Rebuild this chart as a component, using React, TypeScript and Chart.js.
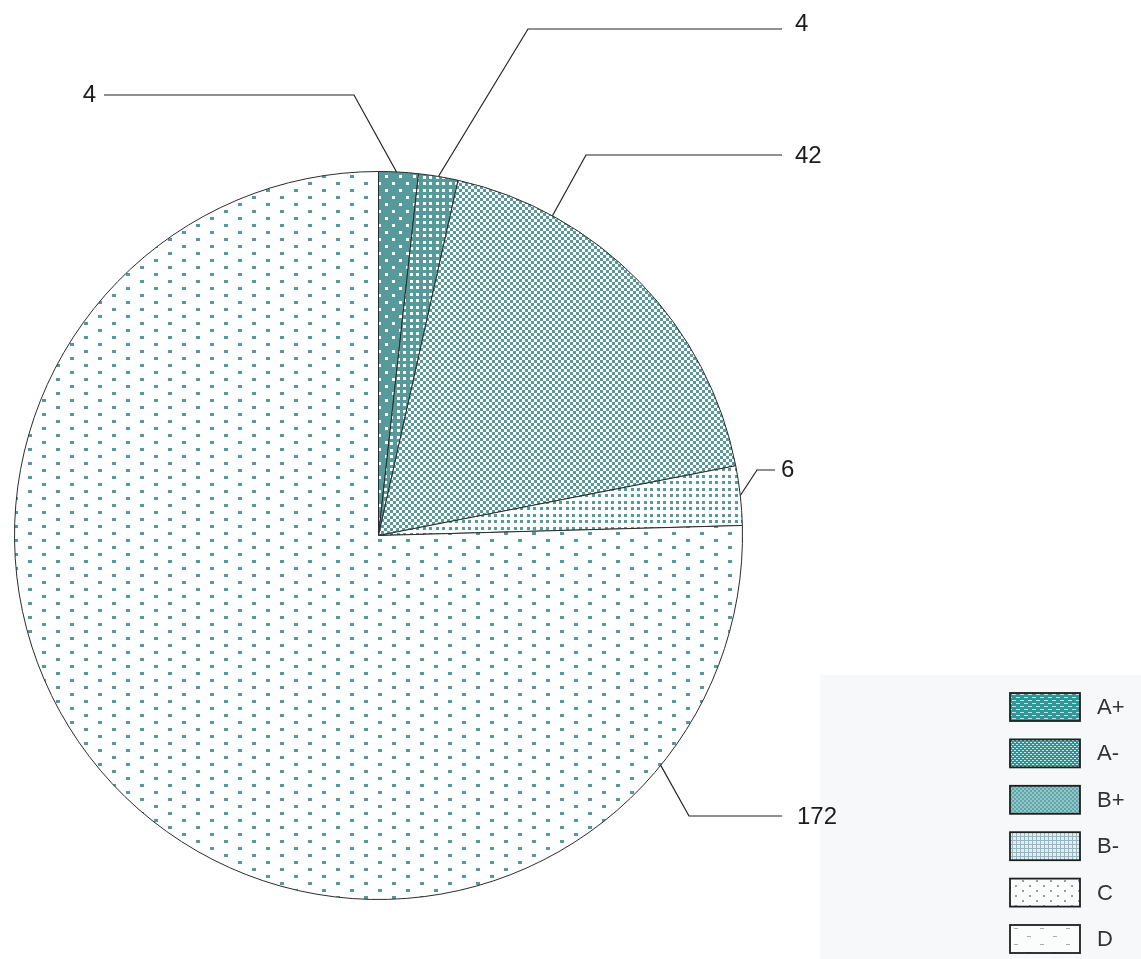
import React, { useEffect, useRef } from "react";
import { Chart, registerables } from "chart.js";

Chart.register(...registerables);

// Grade distribution
const categories = ["A+", "A-", "B+", "B-", "C", "D"];
const counts = [4, 4, 42, 6, 172, 0];

// Leader-line layout for the value labels: where along the slice the line
// starts (fraction of the slice's sweep), the elbow point, the end of the
// horizontal run and where the number sits.
const labelLayout = [
  { frac: 0.45, ex: 354, ey: 95, hx: 104, tx: 96, ty: 95, align: "right" },
  { frac: 0.5, ex: 528, ey: 29, hx: 782, tx: 795, ty: 24, align: "left" },
  { frac: 0.24, ex: 586, ey: 155, hx: 782, tx: 795, ty: 156, align: "left" },
  { frac: 0.5, ex: 757, ey: 470, hx: 775, tx: 781, ty: 470, align: "left" },
  { frac: 0.15, ex: 689, ey: 816, hx: 782, tx: 797, ty: 817, align: "left" },
  null,
];

const TEAL = "#579a9c";
const W = 1141;
const H = 959;

function tile(w: number, h: number, bg: string, fg: string, cells: number[][]) {
  const c = document.createElement("canvas");
  c.width = w;
  c.height = h;
  const g = c.getContext("2d")!;
  g.fillStyle = bg;
  g.fillRect(0, 0, w, h);
  g.fillStyle = fg;
  for (const [x, y, cw, ch] of cells) g.fillRect(x, y, cw, ch);
  return c;
}

const quad = [
  [0, 0, 3, 3],
  [7, 0, 3, 3],
  [0, 7, 3, 3],
  [7, 7, 3, 3],
];

function slicePatterns(ctx: CanvasRenderingContext2D) {
  const tiles = [
    tile(14, 14, TEAL, "#ffffff", [
      [0, 0, 3, 3],
      [7, 7, 3, 3],
    ]),
    tile(13, 13, TEAL, "#ffffff", quad),
    tile(6, 6, "#ffffff", TEAL, [
      [0, 0, 3, 3],
      [3, 3, 3, 3],
    ]),
    tile(13, 13, "#ffffff", TEAL, quad),
    tile(28, 14, "#ffffff", TEAL, [
      [0, 0, 4, 3],
      [14, 7, 4, 3],
    ]),
    tile(20, 14, "#ffffff", "#8a8a8a", [
      [0, 0, 5, 1],
      [10, 7, 5, 1],
    ]),
  ];
  return tiles.map((t) => ctx.createPattern(t, "repeat") as CanvasPattern);
}

function legendPatterns(ctx: CanvasRenderingContext2D) {
  const tiles = [
    tile(8, 6, "#2f9898", "#bfe3e3", [
      [0, 1, 4, 1],
      [4, 4, 4, 1],
    ]),
    tile(4, 4, "#2f9393", "#c9e6e6", [
      [0, 0, 2, 1],
      [2, 2, 2, 1],
    ]),
    tile(4, 4, "#93c4c6", "#5ea6aa", [
      [0, 0, 2, 2],
      [2, 2, 2, 2],
    ]),
    tile(4, 4, "#e3eef2", "#8fb8c2", [
      [0, 0, 4, 1],
      [0, 0, 1, 4],
    ]),
    tile(14, 10, "#fbfcfc", "#9a9ea0", [
      [0, 0, 2, 2],
      [7, 5, 2, 2],
    ]),
    tile(26, 16, "#fbfcfc", "#a8acae", [
      [0, 0, 4, 1],
      [13, 8, 4, 1],
    ]),
  ];
  return tiles.map((t) => ctx.createPattern(t, "repeat") as CanvasPattern);
}

// Faint panel that holds the legend, painted under everything else
const panelPlugin = {
  id: "panel",
  beforeDraw(chart: any) {
    const ctx = chart.ctx as CanvasRenderingContext2D;
    ctx.save();
    ctx.fillStyle = "#f6f8fa";
    ctx.fillRect(820, 675, W - 820, H - 675);
    ctx.restore();
  },
};

// Value labels with elbowed leader lines
const leaderPlugin = {
  id: "leaders",
  afterDatasetsDraw(chart: any) {
    const ctx = chart.ctx as CanvasRenderingContext2D;
    const meta = chart.getDatasetMeta(0);
    const values = chart.data.datasets[0].data as number[];
    ctx.save();
    ctx.strokeStyle = "#222";
    ctx.lineWidth = 1.2;
    ctx.fillStyle = "#1c1c1c";
    ctx.font = "24px 'Liberation Sans', Arial, sans-serif";
    ctx.textBaseline = "middle";
    meta.data.forEach((arc: any, i: number) => {
      const lay = labelLayout[i];
      if (!lay || !values[i]) return;
      const p = arc.getProps(["x", "y", "startAngle", "endAngle", "outerRadius"], true);
      const a = p.startAngle + (p.endAngle - p.startAngle) * lay.frac;
      const ax = p.x + Math.cos(a) * p.outerRadius;
      const ay = p.y + Math.sin(a) * p.outerRadius;
      ctx.beginPath();
      ctx.moveTo(ax, ay);
      ctx.lineTo(lay.ex, lay.ey);
      ctx.lineTo(lay.hx, lay.ey);
      ctx.stroke();
      ctx.textAlign = lay.align as CanvasTextAlign;
      ctx.fillText(String(values[i]), lay.tx, lay.ty);
    });
    ctx.restore();
  },
};

// Legend column at the lower right
const legendPlugin = {
  id: "gradeLegend",
  afterDraw(chart: any) {
    const ctx = chart.ctx as CanvasRenderingContext2D;
    const pats = legendPatterns(ctx);
    const labels = chart.data.labels as string[];
    ctx.save();
    ctx.filter = "blur(0.6px)";
    labels.forEach((lab, i) => {
      const y = 693 + i * 46.4;
      ctx.fillStyle = pats[i];
      ctx.fillRect(1010, y, 70, 28);
      ctx.strokeStyle = "#1f1f1f";
      ctx.lineWidth = 1.8;
      ctx.strokeRect(1010, y, 70, 28);
      ctx.fillStyle = "#333333";
      ctx.font = "22px 'Liberation Sans', Arial, sans-serif";
      ctx.textAlign = "left";
      ctx.textBaseline = "middle";
      ctx.fillText(lab, 1097, y + 15);
    });
    ctx.restore();
  },
};

export default function App() {
  const ref = useRef<HTMLCanvasElement | null>(null);

  useEffect(() => {
    const canvas = ref.current;
    if (!canvas) return;
    const ctx = canvas.getContext("2d")!;
    const chart = new Chart(canvas, {
      type: "pie",
      data: {
        labels: categories,
        datasets: [
          {
            data: counts,
            backgroundColor: slicePatterns(ctx),
            borderColor: "#2b2b2b",
            borderWidth: 1,
          },
        ],
      },
      options: {
        responsive: false,
        animation: false,
        layout: { padding: { left: 14, top: 171, right: 398, bottom: 59 } },
        plugins: {
          legend: { display: false },
          tooltip: { enabled: false },
        },
      },
      plugins: [panelPlugin, leaderPlugin, legendPlugin],
    });
    return () => chart.destroy();
  }, []);

  return (
    <div style={{ position: "absolute", left: 0, top: 0, width: W, height: H, background: "#fff" }}>
      <canvas ref={ref} width={W} height={H} style={{ display: "block" }} />
    </div>
  );
}
